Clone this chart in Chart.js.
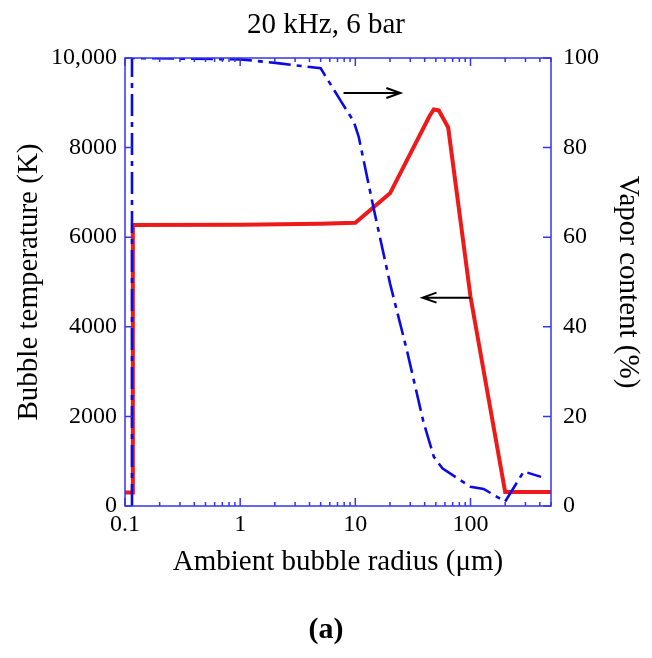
<!DOCTYPE html>
<html><head><meta charset="utf-8">
<script src="https://cdn.jsdelivr.net/npm/chart.js@4/dist/chart.umd.min.js"></script>
<style>html,body{margin:0;padding:0;background:#fff;}#wrap{width:652px;height:658px;position:relative;}</style>
</head><body><div id="wrap"><canvas id="c"></canvas></div>
<script>
// ---- data ----
const radiusTemp  = [0.1, 0.117, 0.117, 1, 5, 10, 20, 44, 48, 53, 58, 64, 100, 200, 500];
const temperature = [300, 300, 6270, 6280, 6300, 6320, 6980, 8700, 8850, 8830, 8650, 8450, 4670, 310, 310];
const radiusVapor = [0.115, 0.115, 1, 2.2, 5, 7.4, 9.7, 10.7, 14.4, 20, 28, 39, 48, 57, 100, 130, 200, 290, 410];
const vapor       = [0, 100, 99.7, 98.8, 97.7, 90.6, 85.8, 82.4, 66.5, 49.7, 34.8, 18.8, 11.0, 8.4, 4.3, 3.8, 1.0, 7.7, 6.5];
const xTickValues = [0.1, 1, 10, 100];
const xTickLabels = ['0.1', '1', '10', '100'];
const tempTicks = [0, 2000, 4000, 6000, 8000, 10000];
const tempTickLabels = ['0', '2000', '4000', '6000', '8000', '10,000'];
const vaporTicks = [0, 20, 40, 60, 80, 100];
const vaporTickLabels = ['0', '20', '40', '60', '80', '100'];
// arrows: [x from, x to] in radius, y level in axis units
const arrowVaporX = [7.9, 24.6];  const arrowVaporY = 92.2;   // points to right axis
const arrowTempX  = [100, 38.3];  const arrowTempY  = 4650;   // points to left axis

const SERIF = "'Liberation Serif','Times New Roman',serif";
const FRAME = '#3535f0';

const framePlugin = {
  id: 'frameTicks',
  afterDatasetsDraw(chart) {
    const {ctx, chartArea: a, scales} = chart;
    const xs = scales.x, yl = scales.y, yr = scales.y1;
    ctx.save();
    ctx.strokeStyle = FRAME;
    ctx.lineWidth = 1.5;
    ctx.strokeRect(a.left, a.top, a.right - a.left, a.bottom - a.top);
    ctx.beginPath();
    for (let d = -1; d <= 2; d++) {
      for (let k = 1; k <= 9; k++) {
        const v = k * Math.pow(10, d);
        if (v < 0.1 || v > 500) continue;
        const px = xs.getPixelForValue(v);
        const len = (k === 1) ? 8 : 4;
        ctx.moveTo(px, a.bottom); ctx.lineTo(px, a.bottom - len);
        ctx.moveTo(px, a.top); ctx.lineTo(px, a.top + len);
      }
    }
    tempTicks.forEach(v => {
      const py = yl.getPixelForValue(v);
      ctx.moveTo(a.left, py); ctx.lineTo(a.left + 7, py);
    });
    vaporTicks.forEach(v => {
      const py = yr.getPixelForValue(v);
      ctx.moveTo(a.right, py); ctx.lineTo(a.right - 8, py);
    });
    ctx.stroke();

    // arrows
    const drawArrow = (x0, x1, y) => {
      ctx.beginPath();
      ctx.strokeStyle = '#000';
      ctx.lineWidth = 2;
      ctx.moveTo(x0, y); ctx.lineTo(x1, y);
      const dir = Math.sign(x1 - x0);
      ctx.moveTo(x1 - dir * 14, y - 5); ctx.lineTo(x1, y); ctx.lineTo(x1 - dir * 14, y + 5);
      ctx.stroke();
    };
    drawArrow(xs.getPixelForValue(arrowVaporX[0]), xs.getPixelForValue(arrowVaporX[1]), yr.getPixelForValue(arrowVaporY));
    drawArrow(xs.getPixelForValue(arrowTempX[0]), xs.getPixelForValue(arrowTempX[1]), yl.getPixelForValue(arrowTempY));
    ctx.restore();
  }
};

new Chart(document.getElementById('c'), {
  type: 'line',
  data: {
    datasets: [
      {
        label: 'Bubble temperature',
        data: radiusTemp.map((r, i) => ({x: r, y: temperature[i]})),
        yAxisID: 'y',
        borderColor: '#ee1a1a',
        borderWidth: 4,
        pointRadius: 0,
        tension: 0,
        order: 1
      },
      {
        label: 'Vapor content',
        data: radiusVapor.map((r, i) => ({x: r, y: vapor[i]})),
        yAxisID: 'y1',
        borderColor: '#0a0ae6',
        borderWidth: 2.6,
        borderDash: [22, 6, 5, 6],
        pointRadius: 0,
        tension: 0,
        order: 0
      }
    ]
  },
  options: {
    responsive: true,
    maintainAspectRatio: false,
    animation: false,
    layout: {padding: 0},
    scales: {
      x: {
        type: 'logarithmic', position: 'bottom', min: 0.1, max: 500,
        afterBuildTicks: s => { s.ticks = xTickValues.map(v => ({value: v})); },
        afterFit: s => { s.height = 106; },
        ticks: {callback: (v, i) => xTickLabels[i], autoSkip: false, maxRotation: 0,
                font: {family: SERIF, size: 24}, color: '#000', padding: 4},
        grid: {display: false, drawTicks: false},
        border: {display: false},
        title: {display: true, text: 'Ambient bubble radius (μm)', color: '#000',
                font: {family: SERIF, size: 29}, padding: {top: 0, bottom: 32}}
      },
      y: {
        type: 'linear', position: 'left', min: 0, max: 10000,
        afterBuildTicks: s => { s.ticks = tempTicks.map(v => ({value: v})); },
        afterFit: s => { s.width = 125; },
        ticks: {callback: (v, i) => tempTickLabels[i], font: {family: SERIF, size: 24}, color: '#000', padding: 8},
        grid: {display: false, drawTicks: false},
        border: {display: false},
        title: {display: true, text: 'Bubble temperature (K)', color: '#000',
                font: {family: SERIF, size: 29}, padding: {top: 12, bottom: 0}}
      },
      y1: {
        type: 'linear', position: 'right', min: 0, max: 100,
        afterBuildTicks: s => { s.ticks = vaporTicks.map(v => ({value: v})); },
        afterFit: s => { s.width = 101; },
        ticks: {callback: (v, i) => vaporTickLabels[i], font: {family: SERIF, size: 24}, color: '#000', padding: 12},
        grid: {display: false, drawTicks: false},
        border: {display: false},
        title: {display: true, text: 'Vapor content (%)', color: '#000',
                font: {family: SERIF, size: 29}, padding: {top: 7, bottom: 0}}
      }
    },
    plugins: {
      legend: {display: false},
      tooltip: {enabled: false},
      title: {display: true, text: '20 kHz, 6 bar', color: '#000',
              font: {family: SERIF, size: 29, weight: 'normal'}, padding: {top: 7.6, bottom: 15.6}},
      subtitle: {display: true, position: 'bottom', text: '(a)', color: '#000',
                 font: {family: SERIF, size: 30, weight: 'bold'}, padding: {top: 0, bottom: 10}}
    }
  },
  plugins: [framePlugin]
});
</script>
</body></html>
